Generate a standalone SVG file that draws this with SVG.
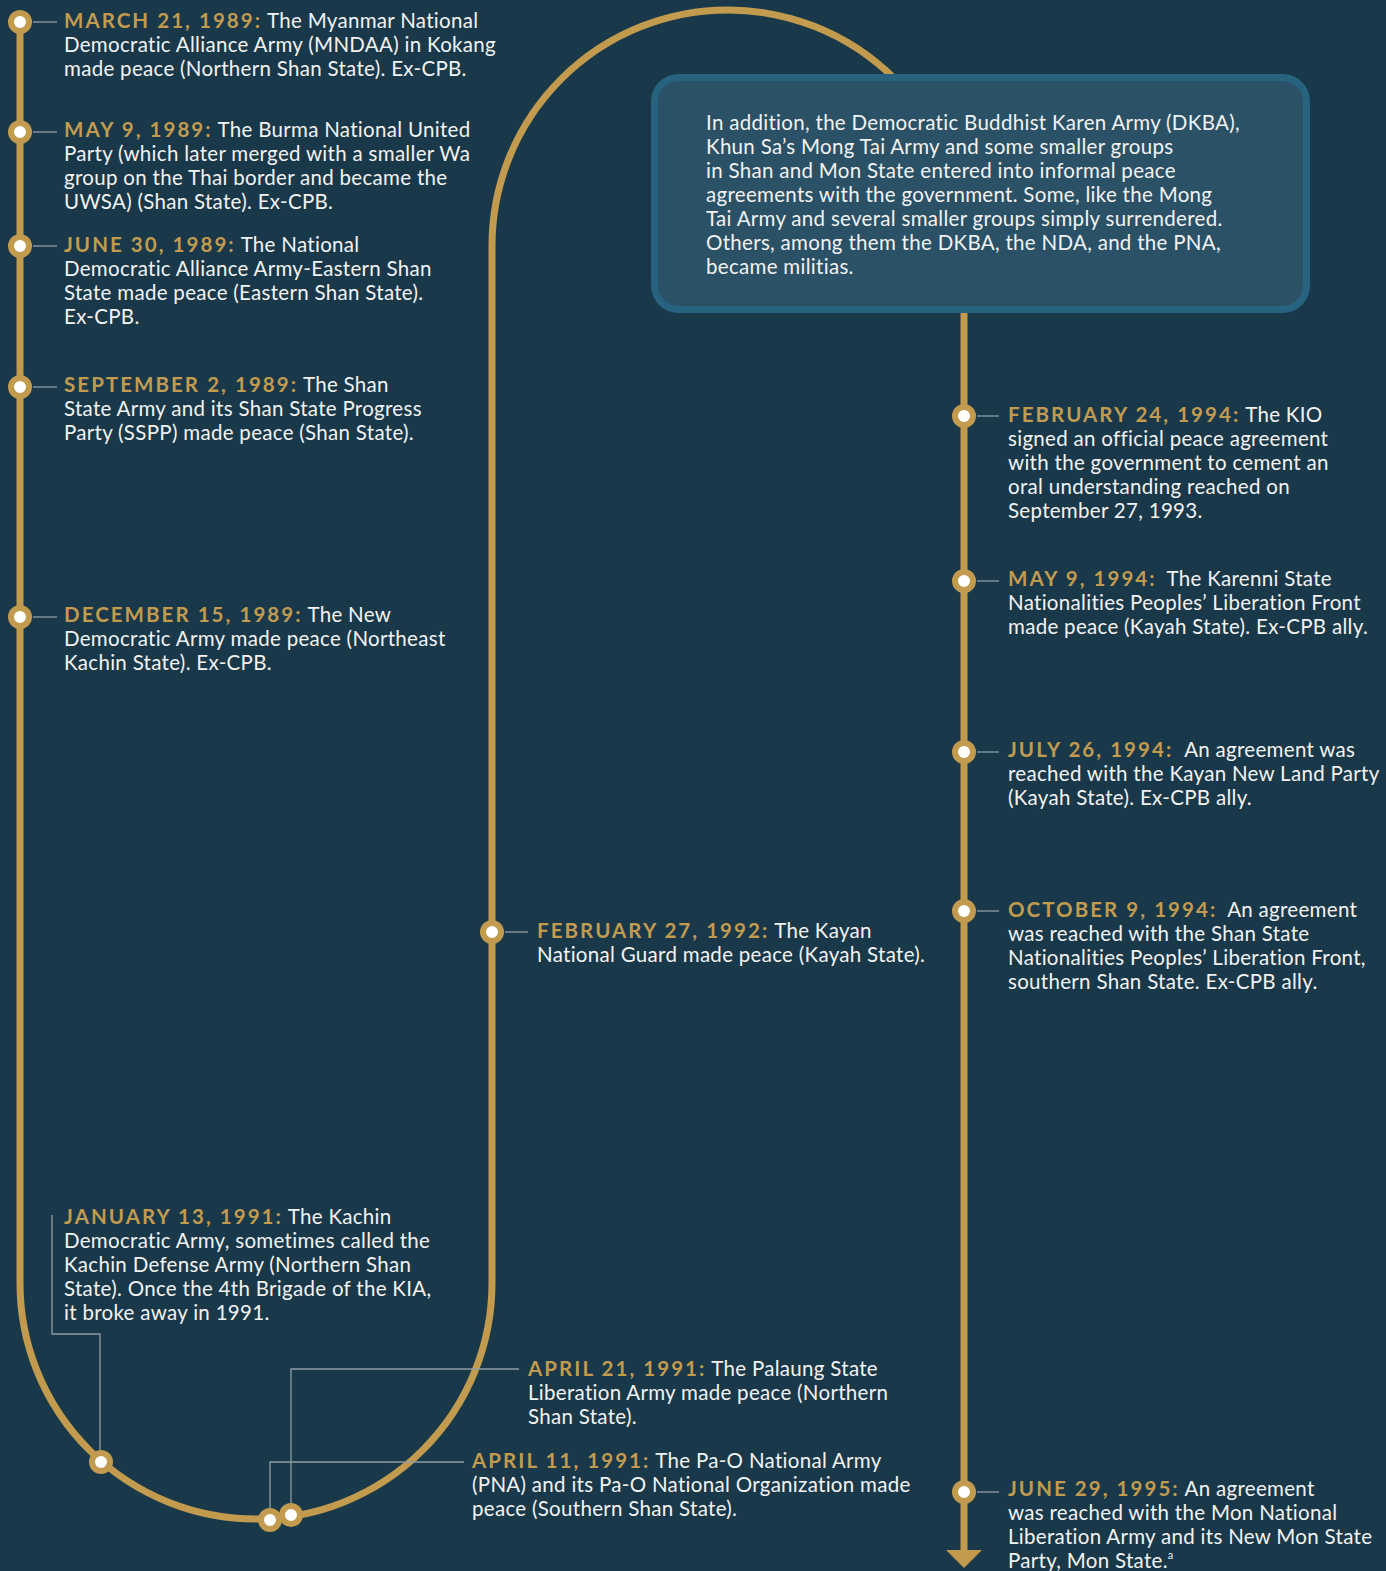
<svg xmlns="http://www.w3.org/2000/svg" width="1386" height="1571" viewBox="0 0 1386 1571">
<style>
  text { font-family: Lato, "Liberation Sans", sans-serif; font-size: 20.5px; letter-spacing: 0.3px; fill: #F2F2F2; }
  .d { font-weight: 700; fill: #C29B4F; letter-spacing: 2.05px; }
  .box text { font-size: 20.5px; }
  .track { fill: none; stroke: #C29B4F; stroke-width: 7; }
  .lead { fill: none; stroke: #8E9CA4; stroke-width: 1.3; }
  .dot { fill: #FFFFFF; stroke: #C29B4F; stroke-width: 6; }
</style>
<rect width="1386" height="1571" fill="#19394A"/>

<g id="connectors">
  <path class="track" d="M20,22 V1283 A236,236 0 0 0 492,1283 V246 A236,236 0 0 1 964,246 V1552"/>
  <polygon points="946,1550 982,1550 964,1568" fill="#C29B4F"/>
  <path class="lead" d="M33,22 H57"/>
  <path class="lead" d="M33,132 H57"/>
  <path class="lead" d="M33,246 H57"/>
  <path class="lead" d="M33,387 H57"/>
  <path class="lead" d="M33,617 H57"/>
  <path class="lead" d="M52,1215 V1334 H100 V1450"/>
  <path class="lead" d="M505,932 H528"/>
  <path class="lead" d="M519,1369 H291 V1503"/>
  <path class="lead" d="M464,1462 H270 V1508"/>
  <path class="lead" d="M977,416 H999"/>
  <path class="lead" d="M977,581 H999"/>
  <path class="lead" d="M977,752 H999"/>
  <path class="lead" d="M977,911 H999"/>
  <path class="lead" d="M977,1492 H999"/>
</g>

<g id="box" class="box">
  <rect x="654.5" y="77.5" width="652" height="232" rx="24" fill="#2A5166" stroke="#27627F" stroke-width="7"/>
  <text x="706" y="130">In addition, the Democratic Buddhist Karen Army (DKBA),</text>
  <text x="706" y="154">Khun Sa’s Mong Tai Army and some smaller groups</text>
  <text x="706" y="178">in Shan and Mon State entered into informal peace</text>
  <text x="706" y="202">agreements with the government. Some, like the Mong</text>
  <text x="706" y="226">Tai Army and several smaller groups simply surrendered.</text>
  <text x="706" y="250">Others, among them the DKBA, the NDA, and the PNA,</text>
  <text x="706" y="274">became militias.</text>
</g>

<g id="n-1989-03-21">
  <circle class="dot" cx="20" cy="22" r="9"/>
  <text x="64" y="28"><tspan class="d">MARCH 21, 1989:</tspan> The Myanmar National</text>
  <text x="64" y="52">Democratic Alliance Army (MNDAA) in Kokang</text>
  <text x="64" y="76">made peace (Northern Shan State). Ex-CPB.</text>
</g>
<g id="n-1989-05-09">
  <circle class="dot" cx="20" cy="132" r="9"/>
  <text x="64" y="137"><tspan class="d">MAY 9, 1989:</tspan> The Burma National United</text>
  <text x="64" y="161">Party (which later merged with a smaller Wa</text>
  <text x="64" y="185">group on the Thai border and became the</text>
  <text x="64" y="209">UWSA) (Shan State). Ex-CPB.</text>
</g>
<g id="n-1989-06-30">
  <circle class="dot" cx="20" cy="246" r="9"/>
  <text x="64" y="252"><tspan class="d">JUNE 30, 1989:</tspan> The National</text>
  <text x="64" y="276">Democratic Alliance Army-Eastern Shan</text>
  <text x="64" y="300">State made peace (Eastern Shan State).</text>
  <text x="64" y="324">Ex-CPB.</text>
</g>
<g id="n-1989-09-02">
  <circle class="dot" cx="20" cy="387" r="9"/>
  <text x="64" y="392"><tspan class="d">SEPTEMBER 2, 1989:</tspan> The Shan</text>
  <text x="64" y="416">State Army and its Shan State Progress</text>
  <text x="64" y="440">Party (SSPP) made peace (Shan State).</text>
</g>
<g id="n-1989-12-15">
  <circle class="dot" cx="20" cy="617" r="9"/>
  <text x="64" y="622"><tspan class="d">DECEMBER 15, 1989:</tspan> The New</text>
  <text x="64" y="646">Democratic Army made peace (Northeast</text>
  <text x="64" y="670">Kachin State). Ex-CPB.</text>
</g>
<g id="n-1991-01-13">
  <circle class="dot" cx="101" cy="1462" r="9"/>
  <text x="64" y="1224"><tspan class="d">JANUARY 13, 1991:</tspan> The Kachin</text>
  <text x="64" y="1248">Democratic Army, sometimes called the</text>
  <text x="64" y="1272">Kachin Defense Army (Northern Shan</text>
  <text x="64" y="1296">State). Once the 4th Brigade of the KIA,</text>
  <text x="64" y="1320">it broke away in 1991.</text>
</g>
<g id="n-1991-04-21">
  <circle class="dot" cx="291" cy="1515" r="9"/>
  <text x="528" y="1376"><tspan class="d">APRIL 21, 1991:</tspan> The Palaung State</text>
  <text x="528" y="1400">Liberation Army made peace (Northern</text>
  <text x="528" y="1424">Shan State).</text>
</g>
<g id="n-1991-04-11">
  <circle class="dot" cx="270" cy="1520" r="9"/>
  <text x="472" y="1468"><tspan class="d">APRIL 11, 1991:</tspan> The Pa-O National Army</text>
  <text x="472" y="1492">(PNA) and its Pa-O National Organization made</text>
  <text x="472" y="1516">peace (Southern Shan State).</text>
</g>
<g id="n-1992-02-27">
  <circle class="dot" cx="492" cy="932" r="9"/>
  <text x="537" y="938"><tspan class="d">FEBRUARY 27, 1992:</tspan> The Kayan</text>
  <text x="537" y="962">National Guard made peace (Kayah State).</text>
</g>
<g id="n-1994-02-24">
  <circle class="dot" cx="964" cy="416" r="9"/>
  <text x="1008" y="422"><tspan class="d">FEBRUARY 24, 1994:</tspan> The KIO</text>
  <text x="1008" y="446">signed an official peace agreement</text>
  <text x="1008" y="470">with the government to cement an</text>
  <text x="1008" y="494">oral understanding reached on</text>
  <text x="1008" y="518">September 27, 1993.</text>
</g>
<g id="n-1994-05-09">
  <circle class="dot" cx="964" cy="581" r="9"/>
  <text x="1008" y="586"><tspan class="d">MAY 9, 1994:</tspan><tspan dx="5"> The Karenni State</tspan></text>
  <text x="1008" y="610">Nationalities Peoples’ Liberation Front</text>
  <text x="1008" y="634">made peace (Kayah State). Ex-CPB ally.</text>
</g>
<g id="n-1994-07-26">
  <circle class="dot" cx="964" cy="752" r="9"/>
  <text x="1008" y="757"><tspan class="d">JULY 26, 1994:</tspan><tspan dx="6"> An agreement was</tspan></text>
  <text x="1008" y="781">reached with the Kayan New Land Party</text>
  <text x="1008" y="805">(Kayah State). Ex-CPB ally.</text>
</g>
<g id="n-1994-10-09">
  <circle class="dot" cx="964" cy="911" r="9"/>
  <text x="1008" y="917"><tspan class="d">OCTOBER 9, 1994:</tspan><tspan dx="5"> An agreement</tspan></text>
  <text x="1008" y="941">was reached with the Shan State</text>
  <text x="1008" y="965">Nationalities Peoples’ Liberation Front,</text>
  <text x="1008" y="989">southern Shan State. Ex-CPB ally.</text>
</g>
<g id="n-1995-06-29">
  <circle class="dot" cx="964" cy="1492" r="9"/>
  <text x="1008" y="1496"><tspan class="d">JUNE 29, 1995:</tspan> An agreement</text>
  <text x="1008" y="1520">was reached with the Mon National</text>
  <text x="1008" y="1544">Liberation Army and its New Mon State</text>
  <text x="1008" y="1568">Party, Mon State.<tspan font-size="11" dy="-9">a</tspan></text>
</g>
</svg>
